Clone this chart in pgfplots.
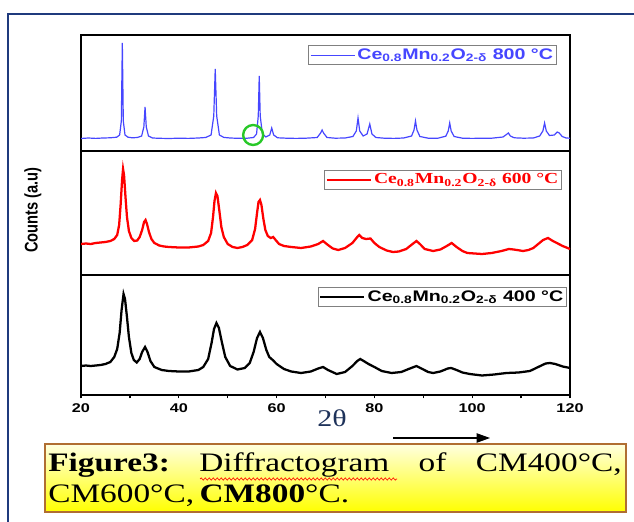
\documentclass[border=0pt]{standalone}
\usepackage{fontspec}
\setmainfont{Liberation Serif}
\setsansfont{Liberation Sans}
\usepackage{graphicx}
\usepackage{pgfplots}
\pgfplotsset{compat=1.18}
\usetikzlibrary{arrows.meta,decorations.pathmorphing}
\definecolor{framecol}{RGB}{31,58,125}
\definecolor{blueline}{RGB}{70,70,255}
\definecolor{capborder}{RGB}{176,110,50}
\definecolor{greencirc}{RGB}{40,200,40}
\definecolor{thetacol}{RGB}{30,50,90}
\newcommand\wx[1]{\scalebox{1.28}[1]{#1}}

\pgfplotstableread{
x y
20 12.5
21.5 13
23 12.6
24.5 13
26 13.2
27.3 13.8
27.9 16
28.25 30
28.45 108
28.65 30
29.0 16
29.6 13.8
30.5 13.2
31.5 13.5
32.4 15
32.85 24
33.1 44
33.35 24
33.8 15
34.6 13
36 12.7
38 12.5
40 12.8
42 12.6
44 13
45.5 13.5
46.6 16
47.15 35
47.45 82
47.75 35
48.3 16
49.2 13.6
50.5 13
52 12.7
54 12.8
55.3 13.5
55.9 17
56.25 35
56.45 75
56.65 35
57.1 17
57.8 14
58.6 16
59.0 23
59.4 16
60.2 13.2
62 12.8
64 12.6
66 12.8
68.3 13.5
69.0 18
69.3 21
69.6 18
70.3 13.5
72 12.8
74 13
75.6 14.5
76.3 20
76.65 33
77.0 20
77.7 15
78.5 17
79.05 27
79.5 17
80.3 13.5
82 12.8
84 12.6
86 13
87.6 15
88.1 21
88.4 30
88.7 21
89.3 14.5
91 12.8
93 12.8
94.6 14.8
95.1 20
95.4 28
95.7 20
96.3 14.5
98 12.8
100 12.6
102 12.8
104 12.8
106.3 14
107 16.5
107.4 18
107.8 15
108.6 13.2
110.5 12.8
112.5 13
113.8 15
114.45 20
114.8 28
115.15 20
115.8 15.5
116.8 16
117.4 19
117.8 18
118.4 14.5
119.2 13
120 12.8
}\tblA

\pgfplotstableread{
x y
20 31
21 31.5
22 31
23 32
24 32.5
25 33
26 34
26.8 36
27.4 40
27.8 50
28.1 70
28.4 95
28.6 106
28.8 100
29.1 78
29.4 58
29.8 44
30.3 37
30.9 34
31.5 34.5
32.0 38
32.5 45
32.9 53
33.2 55
33.5 51
33.9 43
34.4 36
35.0 32
36 29.5
37 28.5
38 28
40 27.5
42 27.5
44 28.5
45 30
46 34
46.6 42
47.0 58
47.3 74
47.6 82
47.9 79
48.3 64
48.7 48
49.2 38
50 31
51 28
52 27
53 28
54 30
55 35
55.6 46
56.0 62
56.3 73
56.6 75
56.9 70
57.3 56
57.7 45
58.2 39
58.8 37
59.3 38
59.8 35
60.5 31
61.5 29
63 28
65 27
67 28.5
68.5 31
69.5 34
70.5 30
71.5 26.5
72.6 25
74 27
75.5 32
76.5 38
76.9 40
77.5 37
78.3 36
79.2 36.5
80 32
81 28
82.5 24.5
83.8 23
85 23.5
86.5 26
87.8 31
88.6 34
89.3 31
90.3 26
92 24
93.5 25.5
94.8 29
95.8 32
96.8 28
98 24
99 22
100.5 21.5
102 21
104 22
106 24
107.5 26
108.5 25.5
110.4 24
111.5 25
112.5 27
113.5 31
114.5 35
115.5 37
116.5 34
117.3 32
118.5 29
120 26
}\tblB

\pgfplotstableread{
x y
20 29
21 29.5
22 29
23 29.5
24 30
25 31
26 33
26.8 38
27.4 46
27.9 62
28.3 85
28.7 101
29.0 96
29.4 78
29.8 58
30.3 42
30.8 35
31.4 32.5
32.0 36
32.5 43
33.1 48
33.6 43
34.2 34
35 28
36.5 25
38 24
40 23.5
42 23.5
44 25
45 28
46 36
46.7 52
47.2 66
47.7 72
48.2 67
48.8 53
49.5 38
50.5 29
52 25.5
53.5 27
54.5 32
55.3 43
56.0 57
56.6 63
57.2 57
57.9 45
58.5 38
59.2 35
60 31
61.5 26
63 23.5
65 22
67 23.5
68.5 26.5
69.5 28
70.5 25
72.3 21
74 23
75.5 29
76.5 34
77.1 36
77.8 34
78.8 31
80 28
81.5 24
83.5 22
85.5 23
87 26
88.6 29
89.8 26
91 23
92 22
93.5 23.5
95 26.5
95.7 27
96.8 25
98 22.5
99.5 21
102 19.5
104.5 20.5
107 22
109.5 22.5
111.8 24
113.5 28
115 31.5
115.9 32
117 31
118.5 28.5
120 27
}\tblC

\pgfplotsset{
  panel/.style={
    scale only axis, width=366.75pt,
    xmin=20, xmax=120, ymin=0,
    axis line style={line width=1.4pt, black},
    ytick=\empty,
    legend cell align=left,
    legend image code/.code={\draw[##1] (0pt,0pt) -- (33pt,0pt);},
    legend style={draw=gray, line width=0.7pt, fill=white, inner sep=1pt,
      row sep=0pt, nodes={inner sep=1.5pt}},
  },
}

\begin{document}
\begin{tikzpicture}[x=0.75pt,y=0.75pt]
\useasboundingbox (0,0) rectangle (634,521);
\draw[framecol, line width=1.3pt] (8,-30) rectangle (680,507);

% bottom panel 400 C
\begin{axis}[panel, at={(60.75pt,94.5pt)}, anchor=south west, height=90pt, ymax=120,
  xtick={20,40,...,120}, xticklabels={\wx{20},\wx{40},\wx{60},\wx{80},\wx{100},\wx{120}},
  minor xtick={30,50,...,110},
  xtick pos=bottom, tick align=outside,
  major tick length=2.5pt, minor tick length=2.5pt,
  every tick/.style={black, line width=1pt},
  xticklabel style={font=\sffamily\bfseries\fontsize{9.5}{11}\selectfont, inner sep=1.5pt, yshift=-2.5pt},
  legend style={at={(0.994,0.9)}, anchor=north east,
    font=\sffamily\bfseries\fontsize{11.5}{13}\selectfont}]
\addplot[black, line width=1.7pt] table {\tblC};
\addlegendentry{\wx{Ce\textsubscript{0.8}Mn\textsubscript{0.2}O\textsubscript{2-δ} 400 °C}}
\end{axis}

% middle panel 600 C
\begin{axis}[panel, at={(60.75pt,184.5pt)}, anchor=south west, height=93pt, ymax=124,
  xtick=\empty,
  legend style={at={(0.984,0.847)}, anchor=north east,
    font=\rmfamily\bfseries\fontsize{11.5}{13}\selectfont, text=red}]
\addplot[red, line width=1.7pt] table {\tblB};
\addlegendentry{\wx{Ce\textsubscript{0.8}Mn\textsubscript{0.2}O\textsubscript{2-δ} 600 °C}}
\end{axis}

% top panel 800 C
\begin{axis}[panel, at={(60.75pt,277.5pt)}, anchor=south west, height=87pt, ymax=116,
  xtick=\empty,
  legend style={at={(0.973,0.914)}, anchor=north east,
    font=\sffamily\bfseries\fontsize{11.5}{13}\selectfont, text=blueline}]
\addplot[blueline, line width=0.9pt] table {\tblA};
\addlegendentry{\wx{Ce\textsubscript{0.8}Mn\textsubscript{0.2}O\textsubscript{2-δ} 800 °C}}
\draw[greencirc, line width=1.8pt] (axis cs:55.2,16) circle[radius=7.5pt];
\end{axis}

% y label
\node[rotate=90, font=\sffamily\bfseries\fontsize{11}{13}\selectfont] at (33,311) {\scalebox{1}[1.25]{Counts (a.u)}};

% 2theta and arrow
\node[font=\fontsize{18}{20}\selectfont, text=thetacol] at (332,103) {\scalebox{1.25}[1]{2θ}};
\draw[line width=0.8pt, -{Triangle[length=10pt,width=7pt]}] (393,83) -- (490,83);

% caption box
\shade[top color=yellow!12, bottom color=yellow, draw=capborder, line width=1pt]
  (45,9) rectangle (626,77);
\node[anchor=base west, inner sep=0pt, xscale=1.25] at (48,49.5) {\parbox[t]{344pt}{\fontsize{20}{23.25}\selectfont
\textbf{Figure3:}\hfill Diffractogram\hfill of\hfill CM400°C,\\
CM600°C,\,\textbf{CM800}°C.}};
\draw[red, line width=0.5pt, decorate, decoration={snake, amplitude=0.8pt, segment length=3pt}] (200,42) -- (397,42);
\end{tikzpicture}
\end{document}
